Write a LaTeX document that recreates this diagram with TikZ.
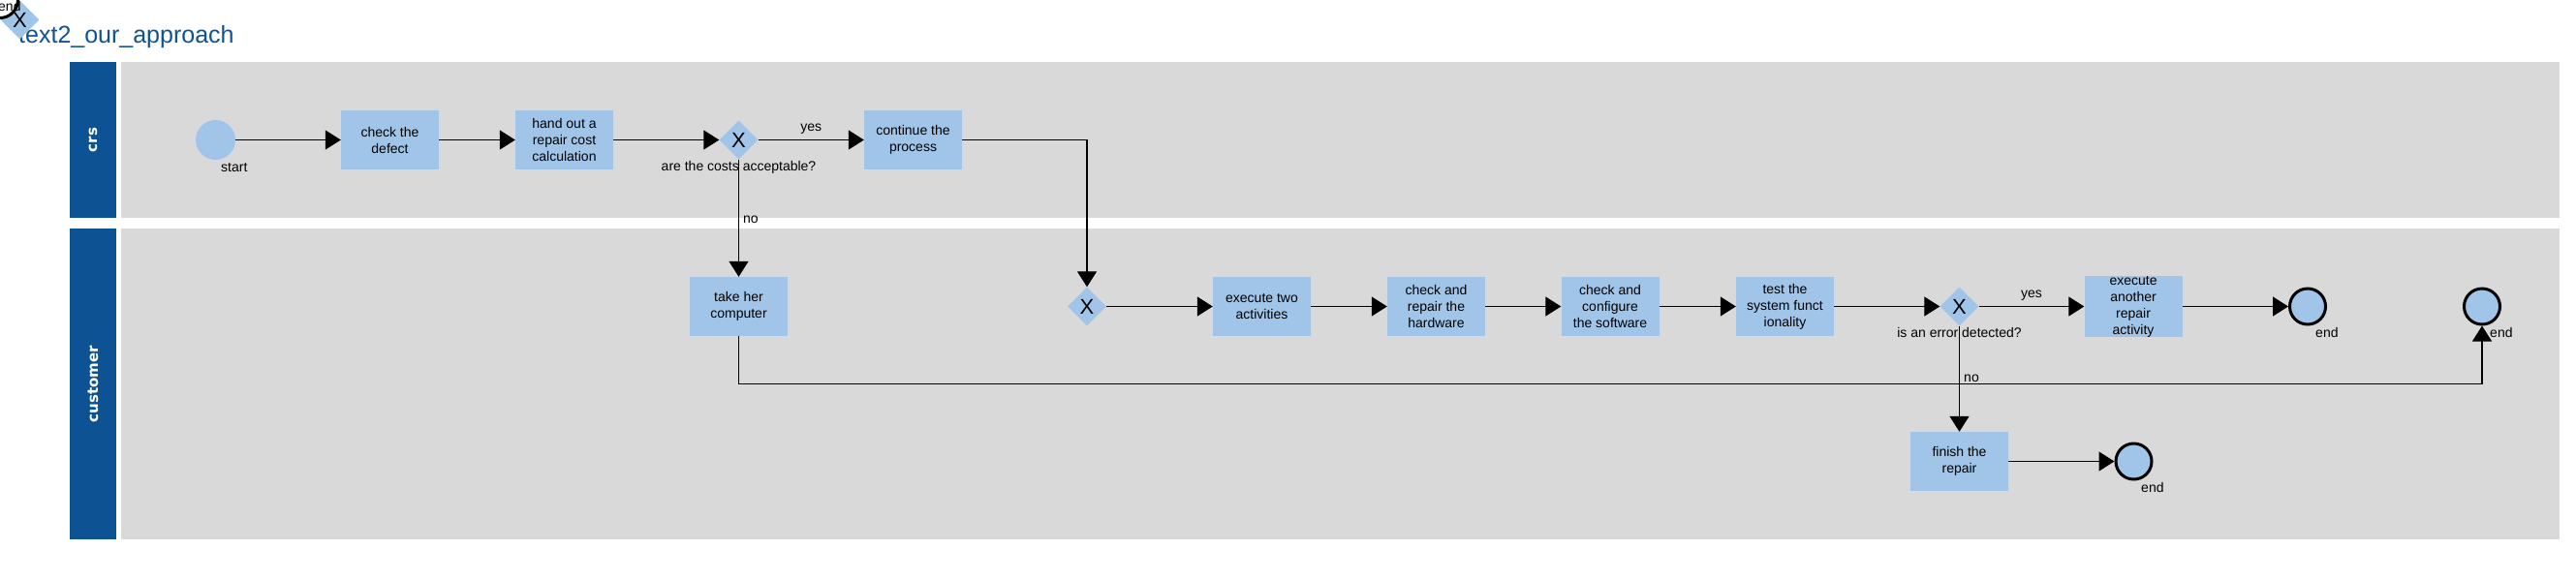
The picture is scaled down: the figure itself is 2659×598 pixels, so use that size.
\documentclass[tikz,border=0pt]{standalone}
\usepackage{fontspec}
\setmainfont{Liberation Sans}
\newfontfamily\lanefont{DejaVu Sans}
\usetikzlibrary{arrows.meta,shapes.geometric}
\definecolor{lanegray}{HTML}{D9D9D9}
\definecolor{hdrblue}{HTML}{0D5393}
\definecolor{actblue}{HTML}{A0C5E8}
\definecolor{titleblue}{HTML}{0E5296}
\begin{document}
\begin{tikzpicture}[x=1pt,y=-1pt,
  task/.style={fill=actblue, minimum width=101pt, minimum height=61pt, inner sep=0pt, align=center, font=\fontsize{14}{17}\selectfont},
  gw/.style={diamond, fill=actblue, minimum width=40pt, minimum height=40pt, inner sep=0pt},
  gwx/.style={inner sep=0pt, font=\fontsize{22}{22}\selectfont},
  startev/.style={circle, fill=actblue, minimum size=41pt, inner sep=0pt},
  endev/.style={circle, fill=actblue, draw=black, line width=3pt, minimum size=37pt, inner sep=0pt},
  flow/.style={line width=1.3pt, -{Triangle[length=16pt,width=20pt]}},
  lbl/.style={font=\fontsize{14}{17}\selectfont, inner sep=0pt},
  lanetxt/.style={rotate=90, text=white, inner sep=0pt, font=\lanefont\bfseries\fontsize{15}{15}\selectfont},
]
\useasboundingbox (0,0) rectangle (2659,598);
% lanes
\fill[hdrblue] (72,64) rectangle (120,225);
\fill[lanegray] (125,64) rectangle (2642,225);
\fill[hdrblue] (72,236) rectangle (120,557);
\fill[lanegray] (125,236) rectangle (2642,557);
\node[lanetxt] (crsl) at (96,144.5) {crs};
\node[lanetxt] (custl) at (96,396.5) {customer};
% title and stray elements at origin
\node[anchor=base west, inner sep=0pt, text=titleblue, font=\fontsize{25}{25}\selectfont] (title) at (19,44) {text2\_our\_approach};
\node[gw] (g0) at (20.5,20.5) {};
\node[circle, draw=black, fill=white, line width=3pt, minimum size=37pt, inner sep=0pt] (e0) at (0,0) {};
\node[lbl, anchor=base west] (e0l) at (-2,11) {end};
\node[gwx] (g0x) at (20.5,21) {X};
% crs lane
\node[startev] (s) at (222.5,144.5) {};
\node[lbl, anchor=base west] (sl) at (228,177) {start};
\node[task] (t1) at (402.5,144.5) {check the\\defect};
\node[task] (t2) at (582.5,144.5) {hand out a\\repair cost\\calculation};
\node[gw] (g1) at (762.5,144.5) {};
\node[gwx] (g1x) at (762.5,145) {X};
\node[lbl, anchor=base] (g1l) at (762.5,176) {are the costs acceptable?};
\node[task] (t3) at (942.5,144.5) {continue the\\process};
% customer lane
\node[task] (t4) at (762.5,316.5) {take her\\computer};
\node[gw] (g2) at (1122,316.5) {};
\node[gwx] (g2x) at (1122,317) {X};
\node[task] (t5) at (1302.5,316.5) {execute two\\activities};
\node[task] (t6) at (1482.5,316.5) {check and\\repair the\\hardware};
\node[task] (t7) at (1662,316.5) {check and\\configure\\the software};
\node[task] (t8) at (1842.5,316.5) {test the\\system funct\\ionality};
\node[gw] (g3) at (2022.5,316.5) {};
\node[gwx] (g3x) at (2022.5,317) {X};
\node[lbl, anchor=base] (g3l) at (2022.5,348) {is an error detected?};
\node[task] (t9) at (2202,316.5) {execute\\another\\repair\\activity};
\node[endev] (e1) at (2382,316.5) {};
\node[lbl, anchor=base west] (e1l) at (2390,348) {end};
\node[endev] (e2) at (2562,316.5) {};
\node[lbl, anchor=base west] (e2l) at (2570,348) {end};
\node[task] (t10) at (2022.5,476.5) {finish the\\repair};
\node[endev] (e3) at (2202.5,476.5) {};
\node[lbl, anchor=base west] (e3l) at (2210,508.5) {end};
\coordinate (bend) at (762.5,396.5);
% flows
\draw[flow] (s) -- (t1);
\draw[flow] (t1) -- (t2);
\draw[flow] (t2) -- (g1);
\draw[flow] (g1) -- node[lbl, anchor=base, pos=0.5, yshift=9pt] (y1) {yes} (t3);
\draw[flow] (t3.east) -| (g2.north);
\draw[flow] (g1.south) -- (t4.north);
\node[lbl, anchor=base west] (n1) at (767,230) {no};
\draw[flow] (t4.south) -- (bend) -| (e2.south);
\draw[flow] (g2) -- (t5);
\draw[flow] (t5) -- (t6);
\draw[flow] (t6) -- (t7);
\draw[flow] (t7) -- (t8);
\draw[flow] (t8) -- (g3);
\draw[flow] (g3) -- node[lbl, anchor=base, pos=0.5, yshift=9pt] (y2) {yes} (t9);
\draw[flow] (t9) -- (e1);
\draw[flow] (g3.south) -- (t10.north);
\node[lbl, anchor=base west] (n2) at (2027,394.5) {no};
\draw[flow] (t10) -- (e3);
\end{tikzpicture}
\end{document}
